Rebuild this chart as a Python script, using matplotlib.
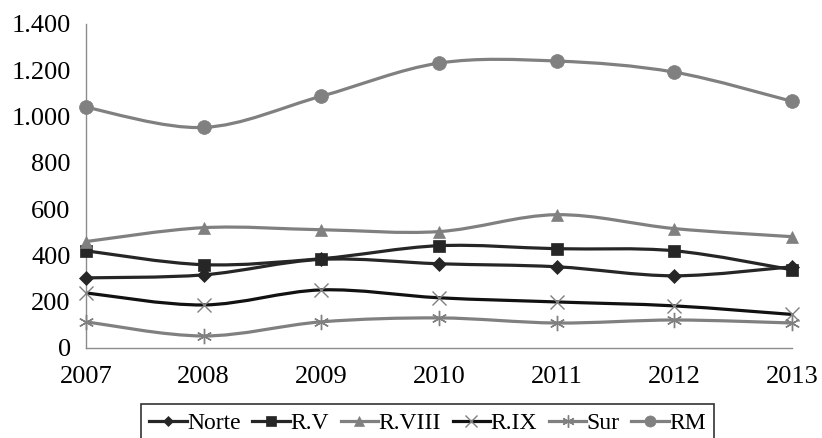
import matplotlib
matplotlib.use("Agg")
import matplotlib.pyplot as plt
import numpy as np
from matplotlib.path import Path
from matplotlib.patches import PathPatch
from matplotlib.lines import Line2D
from matplotlib.ticker import FuncFormatter

plt.rcParams['font.family'] = ['Liberation Serif', 'DejaVu Serif']

years = [2007, 2008, 2009, 2010, 2011, 2012, 2013]
norte = [303, 316, 383, 364, 351, 312, 351]
r_v = [420, 360, 386, 442, 429, 420, 338]
r_viii = [460, 520, 511, 503, 576, 516, 481]
r_ix = [238, 186, 251, 217, 199, 182, 145]
sur = [113, 52, 113, 130, 108, 121, 108]
rm = [1040, 953, 1088, 1231, 1240, 1192, 1066]

dark = "#262626"
gray = "#808080"
asterisk = (6, 2, 0)

series = [
    ("Norte", norte, dark, "D", dark, 7),
    ("R.V", r_v, dark, "s", dark, 9),
    ("R.VIII", r_viii, gray, "^", gray, 9),
    ("R.IX", r_ix, "#111111", "x", gray, 10),
    ("Sur", sur, gray, asterisk, gray, 11),
    ("RM", rm, gray, "o", gray, 10),
]


def smooth_path(xs, ys):
    # bezier through points, excel-like smoothing
    pts = np.column_stack([xs, ys]).astype(float)
    n = len(pts)
    verts = [pts[0]]
    codes = [Path.MOVETO]
    for i in range(n - 1):
        p0 = pts[i - 1] if i > 0 else pts[i]
        p1 = pts[i]
        p2 = pts[i + 1]
        p3 = pts[i + 2] if i + 2 < n else pts[i + 1]
        c1 = p1 + (p2 - p0) / 6.0
        c2 = p2 - (p3 - p1) / 6.0
        verts += [c1, c2, p2]
        codes += [Path.CURVE4] * 3
    return Path(verts, codes)


fig = plt.figure(figsize=(8.22, 4.38), dpi=100)
ax = fig.add_axes([86 / 822, 1 - 348 / 438, (792 - 86) / 822, (348 - 24) / 438])

handles = []
for name, vals, lc, mk, mc, ms in series:
    patch = PathPatch(smooth_path(years, vals), facecolor="none", edgecolor=lc,
                      linewidth=2.3, capstyle="round", joinstyle="round")
    ax.add_patch(patch)
    mew = 1.0 if mk in ("x", asterisk) else 0.5
    ax.plot(years, vals, linestyle="none", marker=mk, markersize=ms,
            markerfacecolor=mc, markeredgecolor=mc, markeredgewidth=mew,
            clip_on=False, zorder=3)
    handles.append(Line2D([0], [0], color=lc, linewidth=2.3, marker=mk,
                          markersize=ms * 0.8, markerfacecolor=mc,
                          markeredgecolor=mc, markeredgewidth=mew, label=name))

ax.set_xlim(2007, 2013)
ax.set_ylim(0, 1400)
ax.set_xticks(years)
ax.set_yticks(range(0, 1401, 200))
ax.yaxis.set_major_formatter(FuncFormatter(lambda v, p: f"{int(v):,}".replace(",", ".")))
ax.tick_params(axis="both", length=0, labelsize=19, colors="black")
ax.tick_params(axis="y", pad=11)
ax.tick_params(axis="x", pad=13)

for s in ["top", "right"]:
    ax.spines[s].set_visible(False)
for s in ["left", "bottom"]:
    ax.spines[s].set_color("#8c8c8c")
    ax.spines[s].set_linewidth(1.0)

leg = fig.legend(handles=handles, loc="upper center", bbox_to_anchor=(0.52, 1 - 404 / 438),
                 ncol=6, fontsize=17, frameon=True, fancybox=False,
                 edgecolor="black", handlelength=1.6, handletextpad=0.0,
                 columnspacing=0.5, borderpad=0.35, borderaxespad=0)
leg.get_frame().set_linewidth(1.2)

fig.savefig("out.png", dpi=100)
